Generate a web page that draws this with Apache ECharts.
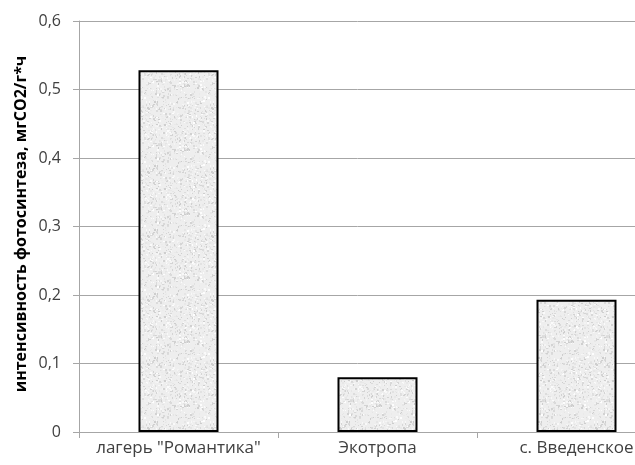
<!DOCTYPE html>
<html>
<head>
<meta charset="utf-8">
<script src="https://cdn.jsdelivr.net/npm/echarts@6/dist/echarts.min.js"></script>
<style>
  html, body { margin: 0; padding: 0; background: #fff; overflow: hidden; }
  #chart { width: 635px; height: 465px; }
</style>
</head>
<body>
<div id="chart"></div>
<script>
// Photosynthesis intensity by sampling site
const categories = ['лагерь "Романтика"', 'Экотропа', 'с. Введенское'];
const intensity = [0.528, 0.080, 0.193];
const yTicks = { min: 0, max: 0.6, interval: 0.1 };
const yAxisTitle = 'интенсивность фотосинтеза, мгСО2/г*ч';

// Light grainy fill for the bars
function grainPattern() {
  const c = document.createElement('canvas');
  c.width = 64; c.height = 64;
  const ctx = c.getContext('2d');
  ctx.fillStyle = '#eeeeee';
  ctx.fillRect(0, 0, 64, 64);
  let s = 12345;
  const next = () => { s = (s * 1103515245 + 12345) & 0x7fffffff; return s / 0x7fffffff; };
  for (let i = 0; i < 800; i++) {
    const x = Math.floor(next() * 64), y = Math.floor(next() * 64);
    const g = Math.floor(205 + next() * 50);
    ctx.fillStyle = 'rgb(' + g + ',' + g + ',' + g + ')';
    ctx.fillRect(x, y, 1 + Math.floor(next() * 2), 1 + Math.floor(next() * 2));
  }
  return c;
}

const chart = echarts.init(document.getElementById('chart'), null, { renderer: 'canvas' });
chart.setOption({
  animation: false,
  backgroundColor: '#ffffff',
  // the plot runs past the right edge of the page
  grid: { left: 79, width: 597, top: 21, height: 411, containLabel: false, outerBoundsMode: 'none' },
  xAxis: {
    type: 'category',
    data: categories,
    axisLine: { lineStyle: { color: '#a6a6a6', width: 1 } },
    axisTick: { show: true, alignWithLabel: false, length: 6, lineStyle: { color: '#a6a6a6' } },
    axisLabel: { interval: 0, color: '#404040', fontFamily: 'Open Sans', fontSize: 17, margin: 8 }
  },
  yAxis: {
    type: 'value',
    min: yTicks.min, max: yTicks.max, interval: yTicks.interval,
    axisLine: { show: true, lineStyle: { color: '#a6a6a6', width: 1 } },
    axisTick: { show: true, length: 6, lineStyle: { color: '#a6a6a6' } },
    splitLine: { lineStyle: { color: '#a6a6a6', width: 1 } },
    axisLabel: {
      color: '#404040', fontFamily: 'Open Sans', fontSize: 16, margin: 18,
      formatter: v => (Math.round(v * 10) / 10).toString().replace('.', ',')
    }
  },
  graphic: [{
    type: 'text',
    x: 21, y: 224,
    rotation: Math.PI / 2,
    style: {
      text: yAxisTitle,
      fill: '#000',
      fontFamily: 'Open Sans',
      fontWeight: 'bold',
      fontSize: 16,
      textAlign: 'center',
      textVerticalAlign: 'middle'
    }
  }],
  series: [{
    type: 'bar',
    data: intensity,
    barWidth: 80,
    itemStyle: {
      color: { image: grainPattern(), repeat: 'repeat' },
      borderColor: '#000',
      borderWidth: 2
    }
  }]
});
</script>
</body>
</html>
